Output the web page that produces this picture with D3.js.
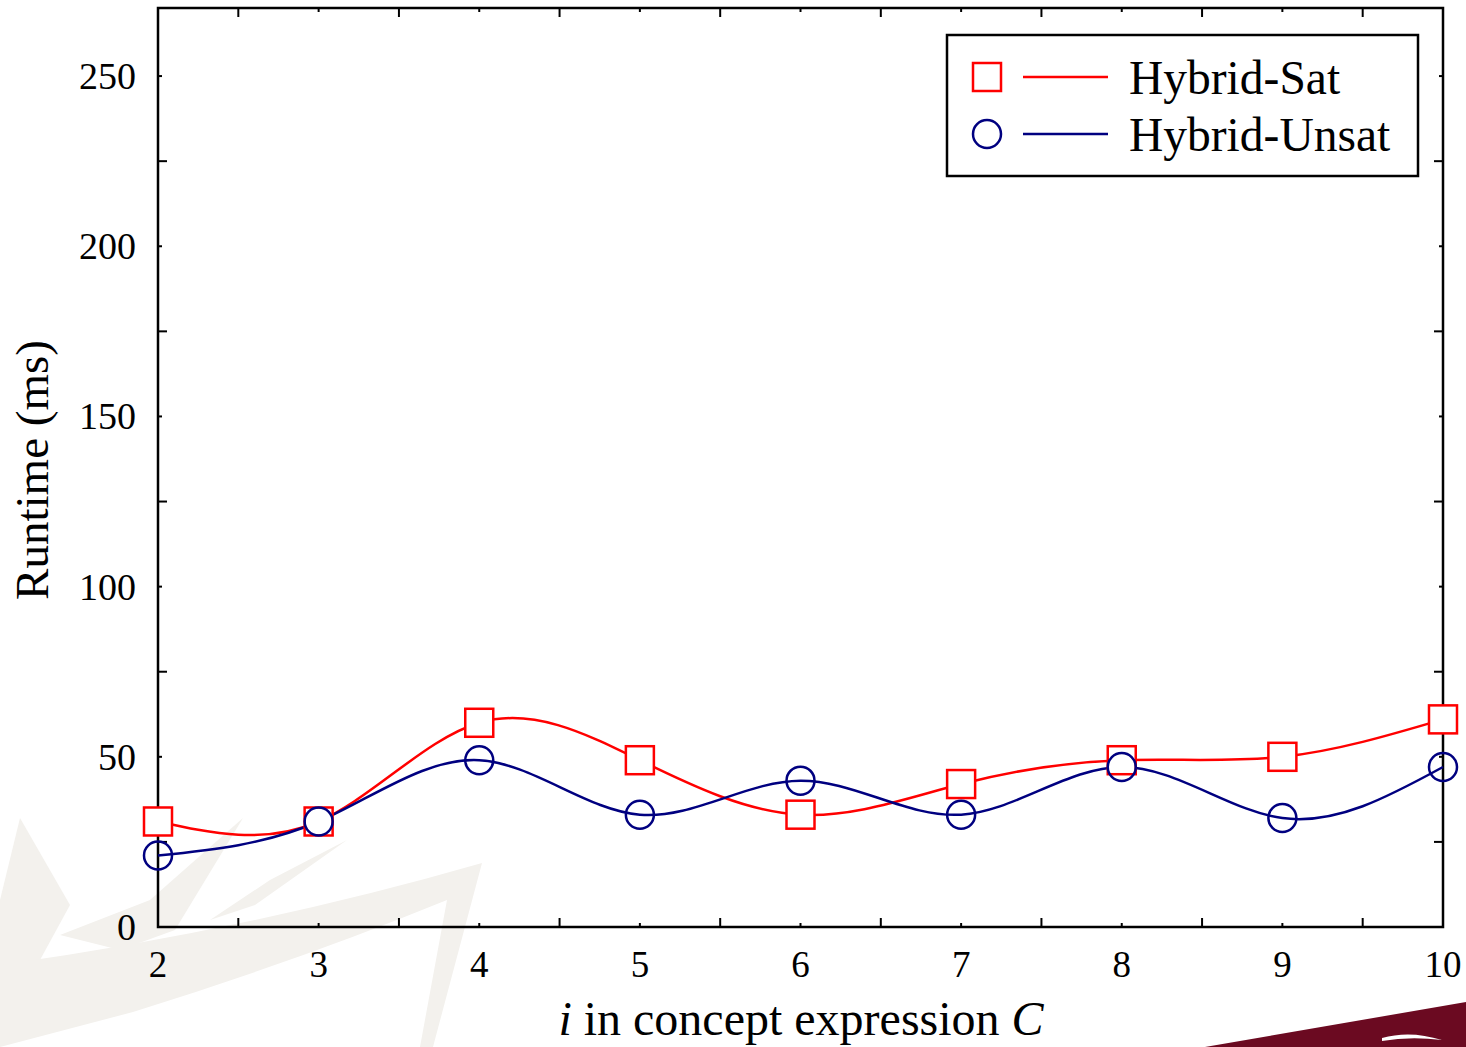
<!DOCTYPE html>
<html>
<head>
<meta charset="utf-8">
<script src="https://cdn.jsdelivr.net/npm/d3@7"></script>
<style>
  body { margin: 0; background: #fff; }
  svg { display: block; }
  text { font-family: 'Liberation Serif', 'Times New Roman', serif; fill: #000; }
</style>
</head>
<body>
<div id="chart"></div>
<script>
const width = 1466;
const height = 1047;

// data
const iValues = [2, 3, 4, 5, 6, 7, 8, 9, 10];
const hybridSat = [31, 31, 60, 49, 33, 42, 49, 50, 61];
const hybridUnsat = [21, 31, 49, 33, 43, 33, 47, 32, 47];
const yTicks = [0, 50, 100, 150, 200, 250];
const yMinorTicks = [25, 75, 125, 175, 225];
const xMinorTicks = [2.5, 3.5, 4.5, 5.5, 6.5, 7.5, 8.5, 9.5];

const margin = { left: 158, right: 1443, top: 8, bottom: 927 };

const svg = d3.select('#chart').append('svg')
  .attr('width', width)
  .attr('height', height);

// faint background watermark (decoration from the slide)
const wm = svg.append('g').attr('id', 'watermark');
const beige = '#f3f1ed';
wm.append('path').attr('fill', beige)
  .attr('d', 'M20,818 L70,905 L40,960 L0,975 L0,900 Z');
wm.append('path').attr('fill', beige)
  .attr('d', 'M243,818 L175,930 L120,950 L60,935 L150,900 Z');
wm.append('path').attr('fill', beige)
  .attr('d', 'M347,840 L255,905 L210,920 L270,880 Z');
wm.append('path').attr('fill', beige)
  .attr('d', 'M0,965 Q250,930 482,863 L433,1047 L420,1047 L447,900 Q300,960 133,1012 L0,1047 Z');

// dark red band in the lower right corner
svg.append('path').attr('fill', '#6b0a21')
  .attr('d', 'M1205,1047 L1466,1002 L1466,1047 Z');
svg.append('path').attr('fill', '#ffffff')
  .attr('d', 'M1382,1038 Q1410,1030 1442,1040 Q1410,1036 1382,1041 Z');

const x = d3.scaleLinear().domain([2, 10]).range([margin.left, margin.right]);
const y = d3.scaleLinear().domain([0, 270]).range([margin.bottom, margin.top]);

const longTick = 9;
const shortTick = 4;

// ticks pointing inward on all four sides
const ticks = svg.append('g').attr('stroke', '#000').attr('stroke-width', 2);
iValues.forEach(v => {
  ticks.append('line').attr('x1', x(v)).attr('x2', x(v))
    .attr('y1', margin.bottom).attr('y2', margin.bottom - shortTick);
  ticks.append('line').attr('x1', x(v)).attr('x2', x(v))
    .attr('y1', margin.top).attr('y2', margin.top + shortTick);
});
xMinorTicks.forEach(v => {
  ticks.append('line').attr('x1', x(v)).attr('x2', x(v))
    .attr('y1', margin.bottom).attr('y2', margin.bottom - longTick);
  ticks.append('line').attr('x1', x(v)).attr('x2', x(v))
    .attr('y1', margin.top).attr('y2', margin.top + longTick);
});
yTicks.forEach(v => {
  ticks.append('line').attr('y1', y(v)).attr('y2', y(v))
    .attr('x1', margin.left).attr('x2', margin.left + shortTick);
  ticks.append('line').attr('y1', y(v)).attr('y2', y(v))
    .attr('x1', margin.right).attr('x2', margin.right - shortTick);
});
yMinorTicks.forEach(v => {
  ticks.append('line').attr('y1', y(v)).attr('y2', y(v))
    .attr('x1', margin.left).attr('x2', margin.left + longTick);
  ticks.append('line').attr('y1', y(v)).attr('y2', y(v))
    .attr('x1', margin.right).attr('x2', margin.right - longTick);
});

// frame
svg.append('rect')
  .attr('x', margin.left).attr('y', margin.top)
  .attr('width', margin.right - margin.left)
  .attr('height', margin.bottom - margin.top)
  .attr('fill', 'none').attr('stroke', '#000').attr('stroke-width', 2.5);

// tick labels
svg.append('g').selectAll('text')
  .data(iValues)
  .enter()
  .append('text')
  .attr('x', d => x(d))
  .attr('y', 977)
  .attr('text-anchor', 'middle')
  .style('font-size', '37px')
  .text(d => d);

svg.append('g').selectAll('text')
  .data(yTicks)
  .enter()
  .append('text')
  .attr('x', 136)
  .attr('y', d => y(d) + 13)
  .attr('text-anchor', 'end')
  .style('font-size', '38px')
  .text(d => d);

// axis titles
svg.append('text')
  .attr('transform', 'translate(48,470) rotate(-90)')
  .attr('text-anchor', 'middle')
  .style('font-size', '47px')
  .text('Runtime (ms)');

const xTitle = svg.append('text')
  .attr('x', 801)
  .attr('y', 1035)
  .attr('text-anchor', 'middle')
  .style('font-size', '48px');
xTitle.append('tspan').style('font-style', 'italic').text('i');
xTitle.append('tspan').text(' in concept expression ');
xTitle.append('tspan').style('font-style', 'italic').text('C');

// lines
const satColor = '#ff0000';
const unsatColor = '#000080';

const line = d3.line()
  .x(d => x(d[0]))
  .y(d => y(d[1]))
  .curve(d3.curveNatural);

const satPoints = iValues.map((v, i) => [v, hybridSat[i]]);
const unsatPoints = iValues.map((v, i) => [v, hybridUnsat[i]]);

svg.append('path').datum(satPoints)
  .attr('d', line)
  .attr('fill', 'none').attr('stroke', satColor).attr('stroke-width', 2.5);
svg.append('path').datum(unsatPoints)
  .attr('d', line)
  .attr('fill', 'none').attr('stroke', unsatColor).attr('stroke-width', 2.5);

const half = 14;

// markers
svg.append('g').selectAll('rect')
  .data(satPoints)
  .enter()
  .append('rect')
  .attr('x', d => x(d[0]) - half)
  .attr('y', d => y(d[1]) - half)
  .attr('width', half * 2)
  .attr('height', half * 2)
  .attr('fill', '#fff')
  .attr('stroke', satColor)
  .attr('stroke-width', 2.5);

svg.append('g').selectAll('circle')
  .data(unsatPoints)
  .enter()
  .append('circle')
  .attr('cx', d => x(d[0]))
  .attr('cy', d => y(d[1]))
  .attr('r', half)
  .attr('fill', 'none')
  .attr('stroke', unsatColor)
  .attr('stroke-width', 2.5);

// legend
const legend = svg.append('g').attr('id', 'legend');
legend.append('rect')
  .attr('x', 947).attr('y', 35)
  .attr('width', 471).attr('height', 141)
  .attr('fill', '#fff').attr('stroke', '#000').attr('stroke-width', 2.5);

const legendRows = [
  { name: 'Hybrid-Sat', color: satColor, shape: 'square', cy: 77 },
  { name: 'Hybrid-Unsat', color: unsatColor, shape: 'circle', cy: 134 },
];

legendRows.forEach(r => {
  if (r.shape === 'square') {
    legend.append('rect')
      .attr('x', 987 - half).attr('y', r.cy - half)
      .attr('width', half * 2).attr('height', half * 2)
      .attr('fill', 'none').attr('stroke', r.color).attr('stroke-width', 2.5);
  } else {
    legend.append('circle')
      .attr('cx', 987).attr('cy', r.cy).attr('r', half)
      .attr('fill', 'none').attr('stroke', r.color).attr('stroke-width', 2.5);
  }
  legend.append('line')
    .attr('x1', 1023).attr('x2', 1108)
    .attr('y1', r.cy).attr('y2', r.cy)
    .attr('stroke', r.color).attr('stroke-width', 2.5);
  legend.append('text')
    .attr('x', 1129).attr('y', r.cy + 17)
    .style('font-size', '47.5px')
    .text(r.name);
});
</script>
</body>
</html>
